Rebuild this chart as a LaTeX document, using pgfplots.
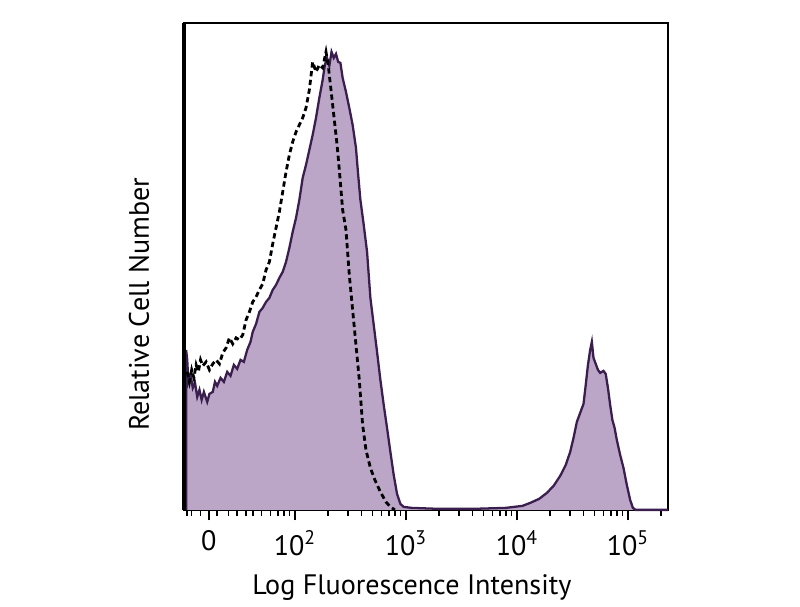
\documentclass[border=0pt]{standalone}
\usepackage{fontspec}
\setmainfont{PT Sans}
\usepackage{pgfplots}
\pgfplotsset{compat=1.18}
\definecolor{fillp}{RGB}{188,166,200}
\definecolor{linep}{RGB}{58,30,78}
\begin{document}
\begin{tikzpicture}
\begin{axis}[
  scale only axis,
  width=9.68cm, height=9.74cm,
  xmin=1, xmax=5.36, ymin=0, ymax=487,
  axis line style={line width=0.9pt, black},
  clip=false,
  ytick=\empty,
  xtick={1.225,2,3,4,5},
  xticklabels={0,10\textsuperscript{2},10\textsuperscript{3},10\textsuperscript{4},10\textsuperscript{5}},
  minor xtick={1.03,1.07,1.15,1.30,1.40,1.48,1.56,1.62,1.70,1.78,1.85,1.90,1.95,
    2.30,2.48,2.60,2.70,2.78,2.85,2.90,2.95,
    3.30,3.48,3.60,3.70,3.78,3.85,3.90,3.95,
    4.30,4.48,4.60,4.70,4.78,4.85,4.90,4.95,5.30},
  xtick pos=bottom, tick align=outside,
  major tick length=6pt, minor tick length=3.5pt,
  every tick/.style={black, line width=0.9pt},
  /pgf/number format/assume math mode=true,
  tick label style={font=\fontsize{16}{18}\selectfont},
  xticklabel style={yshift=-0.8mm},
  xlabel={Log Fluorescence Intensity},
  ylabel={Relative Cell Number},
  label style={font=\fontsize{16}{19}\selectfont},
  xlabel style={yshift=-1.4mm, xshift=-2.8mm},
  ylabel style={yshift=3.6mm, xshift=-7.6mm},
]
\path (rel axis cs:-0.38,-0.185) rectangle (rel axis cs:1.273,1.047);
\addplot[fill=fillp, draw=linep, line width=1.3pt] coordinates {
(1.02,0)(1.02,160)(1.03,150)(1.04,128)(1.06,135)(1.08,122)(1.10,127)(1.12,113)(1.14,120)(1.16,110)(1.18,118)(1.21,108)(1.23,116)(1.26,118)(1.28,128)(1.30,124)(1.33,132)(1.36,128)(1.39,138)(1.42,134)(1.45,145)(1.48,141)(1.51,150)(1.54,148)(1.57,160)(1.60,168)(1.62,178)(1.65,186)(1.68,198)(1.71,202)(1.74,208)(1.77,212)(1.80,220)(1.83,225)(1.86,232)(1.89,238)(1.92,248)(1.95,262)(1.98,278)(2.01,292)(2.04,310)(2.07,332)(2.10,345)(2.13,360)(2.16,375)(2.19,392)(2.22,412)(2.25,430)(2.27,445)(2.29,452)(2.31,444)(2.33,458)(2.35,452)(2.37,456)(2.39,448)(2.41,447)(2.43,432)(2.46,418)(2.49,402)(2.52,385)(2.55,362)(2.57,335)(2.59,310)(2.62,285)(2.65,258)(2.68,212)(2.71,185)(2.74,158)(2.77,130)(2.80,105)(2.83,82)(2.86,58)(2.89,35)(2.92,16)(2.95,6)(2.98,3)(3.05,2)(3.3,1)(3.6,1)(3.9,2)(4.05,4)(4.12,7)(4.20,11)(4.27,17)(4.33,24)(4.39,34)(4.44,45)(4.48,58)(4.51,72)(4.54,88)(4.57,97)(4.60,106)(4.62,125)(4.64,145)(4.66,160)(4.675,168)(4.69,152)(4.71,146)(4.73,140)(4.75,137)(4.78,139)(4.80,136)(4.82,122)(4.84,105)(4.86,90)(4.88,82)(4.90,70)(4.93,55)(4.96,42)(4.99,25)(5.02,10)(5.045,2)(5.07,0)(5.36,0)
};
\addplot[black, line width=1.6pt, dash pattern=on 3pt off 2pt] coordinates {
(1.03,138)(1.05,128)(1.07,140)(1.09,132)(1.11,145)(1.13,138)(1.15,150)(1.17,144)(1.20,148)(1.23,140)(1.26,146)(1.29,150)(1.32,146)(1.35,157)(1.38,162)(1.41,172)(1.44,166)(1.47,172)(1.50,170)(1.53,175)(1.56,190)(1.59,198)(1.62,208)(1.65,213)(1.68,220)(1.71,226)(1.74,240)(1.77,248)(1.80,266)(1.83,282)(1.86,298)(1.89,318)(1.92,338)(1.95,355)(1.98,368)(2.01,378)(2.04,385)(2.07,392)(2.10,402)(2.13,420)(2.16,448)(2.19,438)(2.22,445)(2.25,442)(2.28,458)(2.30,445)(2.32,425)(2.34,405)(2.36,385)(2.38,365)(2.40,340)(2.43,300)(2.46,280)(2.49,235)(2.52,200)(2.55,165)(2.58,130)(2.61,85)(2.64,60)(2.68,42)(2.72,30)(2.77,18)(2.82,8)(2.86,3)(2.90,0)
};
\draw[black, line width=2pt] (rel axis cs:0,0) -- (rel axis cs:0,1);
\end{axis}
\end{tikzpicture}
\end{document}
